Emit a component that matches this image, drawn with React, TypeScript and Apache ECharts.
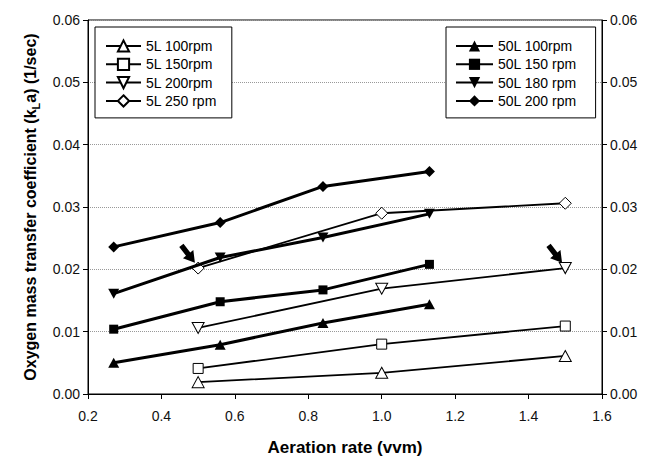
import React, { useEffect, useRef } from "react";
import * as echarts from "echarts";

const FONT = "'Liberation Sans', Arial, Helvetica, sans-serif";

// Aeration rates (vvm)
const x50L = [0.27, 0.56, 0.84, 1.13];
const x5L = [0.5, 1.0, 1.5];

// kLa values (1/sec)
const v5L100 = [0.0019, 0.0034, 0.0061];
const v5L150 = [0.0041, 0.008, 0.0109];
const v5L200 = [0.0106, 0.0169, 0.0202];
const v5L250 = [0.0202, 0.029, 0.0306];

const v50L100 = [0.005, 0.0079, 0.0114, 0.0144];
const v50L150 = [0.0104, 0.0148, 0.0167, 0.0208];
const v50L180 = [0.0161, 0.0219, 0.0251, 0.0289];
const v50L200 = [0.0236, 0.0275, 0.0333, 0.0357];

const names5L = ["5L 100rpm", "5L 150rpm", "5L 200rpm", "5L 250 rpm"];
const names50L = ["50L 100rpm", "50L 150 rpm", "50L 180 rpm", "50L 200 rpm"];

const DOWN_TRI = "path://M0,0 L10,0 L5,8.66 Z";
const ARROW = "path://M5,0 L12,0 L12,11 L17,11 L8.5,22 L0,11 L5,11 Z";

function pairs(xs: number[], ys: number[]) {
  return xs.map((x, i) => [x, ys[i]]);
}

export default function App() {
  const ref = useRef<HTMLDivElement>(null);
  useEffect(() => {
    if (!ref.current) return;
    const chart = echarts.init(ref.current, null, { renderer: "svg" });

    const open = (name: string, xs: number[], ys: number[], symbol: string, size: any, extra: any = {}) => ({
      name,
      type: "line",
      data: pairs(xs, ys),
      symbol,
      symbolSize: size,
      showSymbol: true,
      lineStyle: { color: "#000", width: 1.8 },
      itemStyle: { color: "#fff", borderColor: "#000", borderWidth: 1 },
      z: 3,
      ...extra,
    });
    const filled = (name: string, xs: number[], ys: number[], symbol: string, size: any) => ({
      name,
      type: "line",
      data: pairs(xs, ys),
      symbol,
      symbolSize: size,
      lineStyle: { color: "#000", width: 3 },
      itemStyle: { color: "#000", borderColor: "#000", borderWidth: 0 },
      z: 4,
    });
    const arrowMark = (coord: number[]) => ({
      symbol: ARROW,
      symbolSize: [17, 22],
      symbolRotate: 38,
      symbolOffset: [-10, -14],
      symbolKeepAspect: true,
      itemStyle: { color: "#000" },
      label: { show: false },
      data: [{ coord }],
    });

    const legendBase = {
      orient: "vertical",
      top: 27,
      backgroundColor: "#fff",
      borderColor: "#000",
      borderWidth: 1,
      itemHeight: 14,
      itemGap: 4.3,
      selectedMode: false,
      textStyle: { fontSize: 14, color: "#000", fontFamily: FONT },
      z: 10,
    };

    const yBase = {
      type: "value",
      min: 0,
      max: 0.06,
      interval: 0.01,
      axisLine: { show: true, lineStyle: { color: "#000", width: 1 } },
      axisTick: { show: true, inside: false, length: 5, lineStyle: { color: "#000" } },
      axisLabel: {
        color: "#111",
        fontSize: 14,
        fontFamily: FONT,
        formatter: (v: number) => v.toFixed(2),
      },
    };

    chart.setOption({
      animation: false,
      backgroundColor: "#fff",
      grid: {
        left: 88, right: 43, top: 20, bottom: 62,
        show: true, borderColor: "#000", borderWidth: 1,
        outerBoundsMode: "none", containLabel: false,
      },
      legend: [
        { ...legendBase, left: 95, itemWidth: 35, padding: [12, 15, 10, 10], data: names5L },
        { ...legendBase, left: 446, itemWidth: 37, padding: [12, 19, 10, 9], data: names50L },
      ],
      xAxis: {
        type: "value",
        min: 0.2,
        max: 1.6,
        interval: 0.2,
        name: "Aeration rate (vvm)",
        nameLocation: "middle",
        nameGap: 45,
        nameTextStyle: { fontSize: 17, fontWeight: "bold", color: "#000", fontFamily: FONT },
        axisLine: { show: true, lineStyle: { color: "#000", width: 1 } },
        axisTick: { show: true, inside: false, length: 5, lineStyle: { color: "#000" } },
        axisLabel: { color: "#111", fontSize: 14, fontFamily: FONT, margin: 15, formatter: (v: number) => v.toFixed(1) },
        splitLine: { show: false },
      },
      yAxis: [
        {
          ...yBase,
          position: "left",
          name: "{b|Oxygen mass transfer coefficient (k}{s|L}{b|a) (1/sec)}",
          nameLocation: "middle",
          nameGap: 46,
          nameTextStyle: {
            rich: {
              b: { fontSize: 16, fontWeight: "bold", color: "#000", fontFamily: FONT, lineHeight: 22 },
              s: { fontSize: 11, fontWeight: "bold", color: "#000", fontFamily: FONT, lineHeight: 11, verticalAlign: "bottom" },
            },
          },
          splitLine: { show: true, lineStyle: { color: "#999", type: "dotted", width: 1 } },
        },
        {
          ...yBase,
          position: "right",
          splitLine: { show: false },
        },
      ],
      series: [
        open(names5L[0], x5L, v5L100, "triangle", [12, 11]),
        open(names5L[1], x5L, v5L150, "rect", 10),
        open(names5L[2], x5L, v5L200, DOWN_TRI, [12, 11], { markPoint: arrowMark([x5L[2], v5L200[2]]) }),
        open(names5L[3], x5L, v5L250, "diamond", 12, { markPoint: arrowMark([x5L[0], v5L250[0]]) }),
        filled(names50L[0], x50L, v50L100, "triangle", [11, 10]),
        filled(names50L[1], x50L, v50L150, "rect", 9),
        filled(names50L[2], x50L, v50L180, DOWN_TRI, [11, 10]),
        filled(names50L[3], x50L, v50L200, "diamond", 11),
      ],
    });
    return () => chart.dispose();
  }, []);
  return <div ref={ref} style={{ position: "fixed", left: 0, top: 0, width: 645, height: 456 }} />;
}
